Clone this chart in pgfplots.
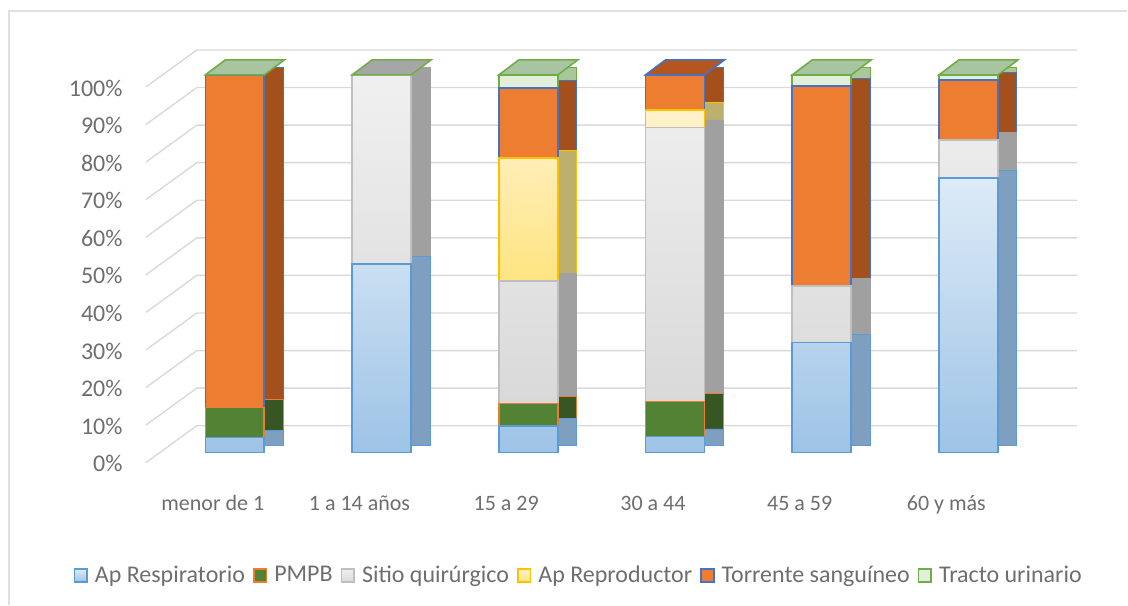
\documentclass[border=0pt]{standalone}
\usepackage{fontspec}
\setmainfont{Carlito}
\usepackage{pgfplots}
\usepackage{pgfplotstable}
\pgfplotsset{compat=1.18}
\definecolor{labc}{HTML}{6E6E6E}
\definecolor{gridc}{HTML}{D9D9D9}
\definecolor{respB}{HTML}{5B9BD5}
\definecolor{respT}{HTML}{DEEBF7}
\definecolor{respL}{HTML}{9DC3E6}
\definecolor{respS}{HTML}{7F9FC0}
\definecolor{pmpbF}{HTML}{548235}
\definecolor{pmpbB}{HTML}{ED7D31}
\definecolor{pmpbS}{HTML}{375623}
\definecolor{sitT}{HTML}{F0F0F0}
\definecolor{sitL}{HTML}{D9D9D9}
\definecolor{sitB}{HTML}{BFBFBF}
\definecolor{sitS}{HTML}{A0A0A0}
\definecolor{repT}{HTML}{FFF2CC}
\definecolor{repL}{HTML}{FFE481}
\definecolor{repB}{HTML}{FFC000}
\definecolor{repS}{HTML}{BDAF6E}
\definecolor{torF}{HTML}{ED7D31}
\definecolor{torB}{HTML}{4472C4}
\definecolor{torS}{HTML}{A4501C}
\definecolor{traF}{HTML}{E2F0D9}
\definecolor{traB}{HTML}{70AD47}
\definecolor{traS}{HTML}{A9C79A}
\definecolor{topG}{HTML}{A9C4A0}
\definecolor{topY}{HTML}{A6A6A6}
\definecolor{topO}{HTML}{B5561F}

\pgfplotstableread{
cat Resp PMPB Sitio Repro Torr Tracto
0 4 8 0 0 88 0
1 50 0 50 0 0 0
2 7 6 32.5 32.5 18.5 3.5
3 4.3 9.3 72.5 4.6 9.3 0
4 29.2 0 15 0 52.8 3
5 72.7 0 10.1 0 15.9 1.3
}\datatable

\begin{document}
\begin{tikzpicture}
\path (0,0) rectangle (564pt,302.5pt);
\draw[color=black!12, line width=0.8pt] (4.5pt,0) -- (4.5pt,297pt) -- (564pt,297pt);
\pgfplotsset{base/.style={scale only axis, width=466pt, xmin=-0.606, xmax=5.742, ymin=0, ymax=100, anchor=south west, clip=false}}

% back wall, grid and tick labels
\begin{axis}[base, at={(73pt,71pt)}, height=188pt,
  axis line style={draw=none}, tick style={draw=none},
  ytick={0,10,...,100}, yticklabel={\pgfmathprintnumber{\tick}\%},
  xtick={0,...,5}, xticklabels={menor de 1, 1 a 14 años, 15 a 29, 30 a 44, 45 a 59, 60 y más},
  xticklabel style={font=\fontsize{11}{13}\selectfont, text=labc},
  yticklabel style={font=\fontsize{12}{14}\selectfont, text=labc},
  yticklabel style={anchor=east, inner sep=0pt, xshift=-11.5pt, yshift=-0.5pt},
  xticklabel style={anchor=base, inner sep=0pt, yshift=-24pt, xshift=-11pt},
  /pgf/number format/assume math mode=true]
\pgfplotsinvokeforeach{0,10,...,100}{\draw[gridc, line width=0.7pt] (axis cs:-0.606,#1) -- (axis cs:-0.259,{#1+9.84}) -- (axis cs:5.742,{#1+9.84});}
\end{axis}

% side faces
\begin{axis}[base, at={(73pt,79.75pt)}, height=189pt, hide axis, ybar stacked, bar width=0.136, bar shift=0.262]
\addplot[fill=respS, draw=respB] table[x=cat,y=Resp]{\datatable};
\addplot[fill=pmpbS, draw=pmpbB] table[x=cat,y=PMPB]{\datatable};
\addplot[fill=sitS, draw=sitS] table[x=cat,y=Sitio]{\datatable};
\addplot[fill=repS, draw=repB] table[x=cat,y=Repro]{\datatable};
\addplot[fill=torS, draw=torB] table[x=cat,y=Torr]{\datatable};
\addplot[fill=traS, draw=traB] table[x=cat,y=Tracto]{\datatable};
\end{axis}

% front faces
\begin{axis}[base, at={(73pt,76pt)}, height=189pt, hide axis, ybar stacked, bar width=0.402,
  legend image code/.code={\draw[#1, line width=0.8pt] (0pt,-3.2pt) rectangle (6.4pt,3.2pt);},
  legend columns=6,
  legend style={at={(0.4657,-0.325)}, anchor=center, draw=none, fill=none,
    font=\fontsize{12}{14}\selectfont, text=labc,
    /tikz/every even column/.append style={column sep=2pt},
    /tikz/every odd column/.append style={column sep=1.5pt}}]
\addplot[top color=respT, bottom color=respL, draw=respB, line width=0.8pt] table[x=cat,y=Resp]{\datatable};
\addplot[fill=pmpbF, draw=pmpbB, line width=0.8pt] table[x=cat,y=PMPB]{\datatable};
\addplot[top color=sitT, bottom color=sitL, draw=sitB, line width=0.8pt] table[x=cat,y=Sitio]{\datatable};
\addplot[top color=repT, bottom color=repL, draw=repB, line width=0.8pt] table[x=cat,y=Repro]{\datatable};
\addplot[fill=torF, draw=torB, line width=0.8pt] table[x=cat,y=Torr]{\datatable};
\addplot[fill=traF, draw=traB, line width=0.8pt] table[x=cat,y=Tracto]{\datatable};
\legend{Ap Respiratorio, PMPB, Sitio quirúrgico, Ap Reproductor, Torrente sanguíneo, Tracto urinario}
\end{axis}

% top faces
\begin{axis}[base, at={(73pt,76pt)}, height=189pt, hide axis]
\addplot[fill=topG, draw=traB, line width=0.8pt] coordinates {(-0.201,100) (0.201,100) (0.337,103.97) (-0.065,103.97)} -- cycle;
\addplot[fill=topY, draw=traB, line width=0.8pt] coordinates {(0.799,100) (1.201,100) (1.337,103.97) (0.935,103.97)} -- cycle;
\addplot[fill=topG, draw=traB, line width=0.8pt] coordinates {(1.799,100) (2.201,100) (2.337,103.97) (1.935,103.97)} -- cycle;
\addplot[fill=topO, draw=torB, line width=0.8pt] coordinates {(2.799,100) (3.201,100) (3.337,103.97) (2.935,103.97)} -- cycle;
\addplot[fill=topG, draw=traB, line width=0.8pt] coordinates {(3.799,100) (4.201,100) (4.337,103.97) (3.935,103.97)} -- cycle;
\addplot[fill=topG, draw=traB, line width=0.8pt] coordinates {(4.799,100) (5.201,100) (5.337,103.97) (4.935,103.97)} -- cycle;
\end{axis}
\end{tikzpicture}
\end{document}
